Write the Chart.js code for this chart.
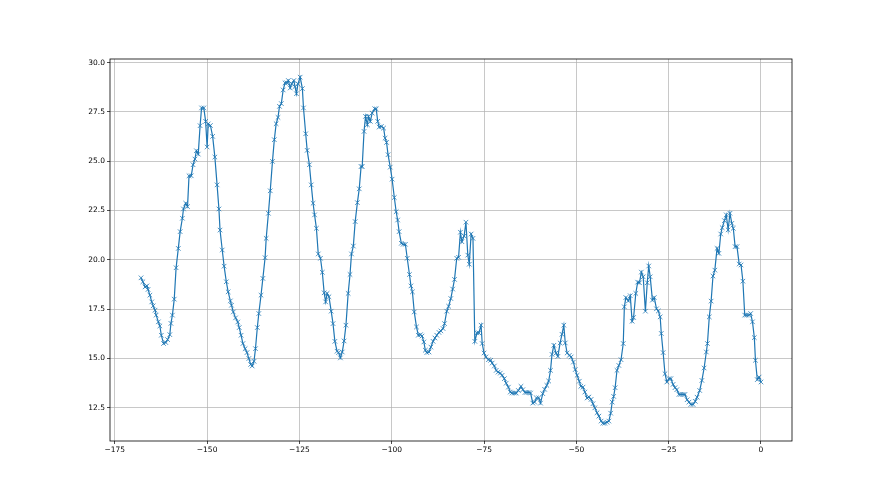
<!DOCTYPE html>
<html>
<head>
<meta charset="utf-8">
<script src="https://cdn.jsdelivr.net/npm/chart.js@4"></script>
<style>
  html, body { margin: 0; padding: 0; background: #fff; }
  #wrap { width: 880px; height: 495px; }
</style>
</head>
<body>
<div id="wrap"><canvas id="myChart" width="880" height="495"></canvas></div>
<script>
// x positions and values
const xs = [
  -167.9, -167.4, -166.8, -166.3, -166.0, -165.5, -165.0, -164.6, -164.1, -163.8,
  -163.2, -162.8, -162.4, -161.8, -161.2, -160.7, -160.1, -159.8, -159.4, -158.9,
  -158.4, -157.8, -157.3, -156.7, -156.4, -155.8, -155.3, -154.9, -154.3, -153.8,
  -153.3, -152.9, -152.4, -151.9, -151.5, -150.9, -150.4, -150.0, -149.7, -149.1,
  -148.5, -147.9, -147.3, -146.8, -146.5, -145.9, -145.4, -144.8, -144.3, -143.7,
  -143.4, -142.9, -142.3, -141.7, -141.3, -140.8, -140.3, -139.7, -139.2, -138.7,
  -138.2, -137.8, -137.3, -136.9, -136.4, -136.0, -135.4, -134.9, -134.3, -134.0,
  -133.4, -132.9, -132.3, -131.8, -131.3, -130.8, -130.4, -129.9, -129.4, -128.9,
  -128.4, -128.0, -127.5, -127.1, -126.5, -126.2, -125.8, -125.4, -124.8, -124.2,
  -123.9, -123.3, -122.9, -122.3, -121.8, -121.3, -120.9, -120.4, -119.9, -119.3,
  -118.8, -118.3, -117.9, -117.5, -117.0, -116.4, -115.9, -115.4, -114.8, -114.4,
  -113.9, -113.4, -112.9, -112.4, -111.8, -111.3, -110.9, -110.4, -109.9, -109.3,
  -108.8, -108.3, -108.0, -107.5, -107.1, -106.6, -106.3, -105.8, -105.3, -104.6,
  -104.2, -103.8, -103.4, -102.8, -102.2, -101.8, -101.4, -101.0, -100.4, -99.9,
  -99.3, -98.8, -98.4, -98.0, -97.4, -96.9, -96.3, -95.8, -95.2, -94.8,
  -94.4, -93.9, -93.3, -92.8, -92.2, -91.8, -91.3, -90.9, -90.5, -89.9,
  -89.4, -88.8, -88.3, -87.8, -87.2, -86.7, -86.1, -85.7, -85.1, -84.6,
  -84.0, -83.5, -83.0, -82.4, -81.9, -81.4, -81.0, -80.4, -79.9, -79.4,
  -79.0, -78.5, -78.0, -77.5, -76.9, -76.4, -75.8, -75.5, -75.0, -74.5,
  -73.8, -73.2, -72.8, -72.2, -71.7, -71.2, -70.6, -70.1, -69.5, -69.0,
  -68.4, -67.9, -67.4, -66.8, -66.3, -65.7, -65.0, -64.5, -63.9, -63.4,
  -62.8, -62.4, -61.8, -61.3, -60.8, -60.2, -59.7, -59.1, -58.6, -58.0,
  -57.5, -57.0, -56.6, -56.1, -55.5, -55.0, -54.4, -53.9, -53.4, -53.0,
  -52.5, -51.9, -51.4, -50.8, -50.3, -49.8, -49.2, -48.8, -48.2, -47.7,
  -47.1, -46.6, -46.0, -45.5, -45.0, -44.4, -43.9, -43.3, -42.8, -42.3,
  -41.7, -41.2, -40.7, -40.3, -39.9, -39.5, -39.0, -38.5, -37.9, -37.3,
  -37.0, -36.6, -35.9, -35.4, -34.9, -34.5, -33.9, -33.4, -32.9, -32.4,
  -31.9, -31.3, -30.8, -30.4, -30.0, -29.4, -28.9, -28.3, -27.8, -27.3,
  -27.0, -26.5, -26.0, -25.5, -24.9, -24.4, -23.8, -23.3, -22.8, -22.2,
  -21.7, -21.1, -20.6, -20.0, -19.5, -19.0, -18.4, -17.8, -17.3, -16.6,
  -16.0, -15.4, -14.8, -14.5, -14.0, -13.5, -13.0, -12.5, -11.9, -11.4,
  -10.9, -10.5, -9.9, -9.4, -8.9, -8.4, -7.9, -7.5, -7.0, -6.5,
  -5.9, -5.4, -4.9, -4.4, -3.9, -3.3, -2.8, -2.3, -1.8, -1.5,
  -1.0, -0.5, 0.0
];
const ys = [
  19.09, 18.89, 18.63, 18.68, 18.50, 18.21, 17.87, 17.67, 17.45, 17.20,
  16.86, 16.65, 16.18, 15.76, 15.81, 15.96, 16.21, 16.78, 17.20, 18.01,
  19.60, 20.58, 21.43, 22.11, 22.58, 22.87, 22.70, 24.26, 24.26, 24.82,
  25.11, 25.53, 25.36, 26.80, 27.70, 27.70, 27.02, 25.72, 26.89, 26.81,
  26.26, 25.21, 23.80, 22.58, 21.51, 20.50, 19.68, 18.89, 18.38, 17.92,
  17.70, 17.36, 17.06, 16.85, 16.57, 16.18, 15.76, 15.50, 15.30, 15.00,
  14.70, 14.62, 14.86, 15.50, 16.57, 17.28, 18.21, 19.06, 20.11, 21.09,
  22.36, 23.50, 24.99, 26.09, 26.90, 27.22, 27.78, 27.92, 28.61, 28.97,
  28.97, 29.09, 28.71, 28.92, 29.09, 28.78, 28.42, 28.92, 29.26, 28.68,
  27.70, 26.39, 25.55, 24.82, 23.80, 22.87, 22.28, 21.60, 20.30, 20.08,
  19.37, 18.33, 17.87, 18.30, 18.13, 17.40, 16.77, 15.87, 15.37, 15.30,
  15.03, 15.33, 15.89, 16.69, 18.30, 19.26, 20.30, 20.70, 21.94, 22.90,
  23.60, 24.73, 24.73, 26.51, 27.27, 26.85, 27.27, 27.02, 27.44, 27.66,
  27.65, 27.02, 26.73, 26.76, 26.68, 26.17, 25.95, 25.33, 24.70, 24.09,
  23.16, 22.44, 22.02, 21.43, 20.84, 20.79, 20.79, 20.08, 19.26, 18.68,
  18.38, 17.36, 16.60, 16.18, 16.21, 16.14, 15.84, 15.42, 15.30, 15.33,
  15.58, 15.87, 16.04, 16.18, 16.32, 16.40, 16.52, 16.77, 17.40, 17.65,
  18.04, 18.52, 19.01, 20.08, 20.13, 21.40, 20.92, 21.21, 21.91, 20.24,
  19.78, 21.31, 21.09, 15.87, 16.30, 16.30, 16.69, 15.76, 15.28, 15.08,
  14.94, 14.91, 14.77, 14.62, 14.40, 14.31, 14.26, 14.15, 13.98, 13.75,
  13.55, 13.30, 13.25, 13.25, 13.25, 13.38, 13.59, 13.42, 13.28, 13.28,
  13.28, 13.25, 12.74, 12.79, 13.00, 13.01, 12.74, 13.22, 13.44, 13.64,
  13.86, 14.40, 15.21, 15.67, 15.28, 15.11, 15.79, 16.23, 16.69, 15.79,
  15.28, 15.16, 15.08, 14.82, 14.44, 14.15, 13.85, 13.59, 13.55, 13.30,
  13.00, 13.05, 12.93, 12.71, 12.50, 12.25, 12.08, 11.83, 11.72, 11.72,
  11.77, 11.83, 12.23, 12.79, 13.08, 13.52, 14.40, 14.65, 14.94, 15.76,
  17.62, 18.09, 17.92, 18.18, 16.89, 17.08, 18.30, 18.87, 18.84, 19.38,
  19.14, 17.40, 18.84, 19.69, 19.14, 17.96, 18.09, 17.52, 17.41, 17.11,
  16.27, 15.30, 14.23, 13.81, 13.98, 13.98, 13.69, 13.52, 13.42, 13.18,
  13.18, 13.18, 13.18, 12.91, 12.79, 12.67, 12.67, 12.83, 13.04, 13.38,
  13.89, 14.52, 15.33, 15.76, 17.11, 17.91, 19.18, 19.48, 20.58, 20.33,
  21.31, 21.63, 21.99, 22.28, 21.52, 22.36, 21.85, 21.60, 20.67, 20.67,
  19.79, 19.74, 18.92, 17.20, 17.20, 17.20, 17.28, 16.86, 16.06, 14.91,
  13.93, 14.06, 13.81
];
const xTicks = [-175, -150, -125, -100, -75, -50, -25, 0];
const yTicks = [12.5, 15.0, 17.5, 20.0, 22.5, 25.0, 27.5, 30.0];

const points = xs.map((x, i) => ({ x: x, y: ys[i] }));

// box round the plot, like the four spines
const frame = {
  id: 'frame',
  afterDraw(chart) {
    const a = chart.chartArea;
    const c = chart.ctx;
    c.save();
    c.strokeStyle = '#000';
    c.lineWidth = 0.8;
    c.strokeRect(a.left, a.top, a.right - a.left, a.bottom - a.top);
    c.restore();
  }
};

const fmt = v => String(v).replace('-', '\u2212');

const ctx = document.getElementById('myChart').getContext('2d');
const myChart = new Chart(ctx, {
  type: 'scatter',
  data: {
    datasets: [{
      data: points,
      showLine: true,
      borderColor: '#1f77b4',
      backgroundColor: '#1f77b4',
      borderWidth: 1.2,
      tension: 0,
      pointStyle: 'crossRot',
      pointRadius: 3.2,
      pointBorderWidth: 0.8,
      pointBorderColor: '#1f77b4',
      pointHoverRadius: 3.2
    }]
  },
  options: {
    responsive: false,
    animation: false,
    layout: { padding: { top: 59, right: 88, left: 0, bottom: 0 } },
    plugins: { legend: { display: false }, tooltip: { enabled: false } },
    scales: {
      x: {
        type: 'linear',
        min: -176.3,
        max: 8.4,
        afterBuildTicks: s => { s.ticks = xTicks.map(v => ({ value: v })); },
        afterFit: s => { s.height = 54; },
        grid: { color: '#b0b0b0', lineWidth: 0.7, tickColor: '#000', tickLength: 3 },
        border: { display: false },
        ticks: {
          color: '#000',
          padding: 2,
          maxRotation: 0,
          font: { family: 'DejaVu Sans', size: 7.5 },
          callback: v => fmt(v)
        }
      },
      y: {
        type: 'linear',
        min: 10.82,
        max: 30.18,
        afterBuildTicks: s => { s.ticks = yTicks.map(v => ({ value: v })); },
        afterFit: s => { s.width = 110; },
        grid: { color: '#b0b0b0', lineWidth: 0.7, tickColor: '#000', tickLength: 3 },
        border: { display: false },
        ticks: {
          color: '#000',
          padding: 2,
          font: { family: 'DejaVu Sans', size: 7.5 },
          callback: v => v.toFixed(1)
        }
      }
    }
  },
  plugins: [frame]
});
</script>
</body>
</html>
